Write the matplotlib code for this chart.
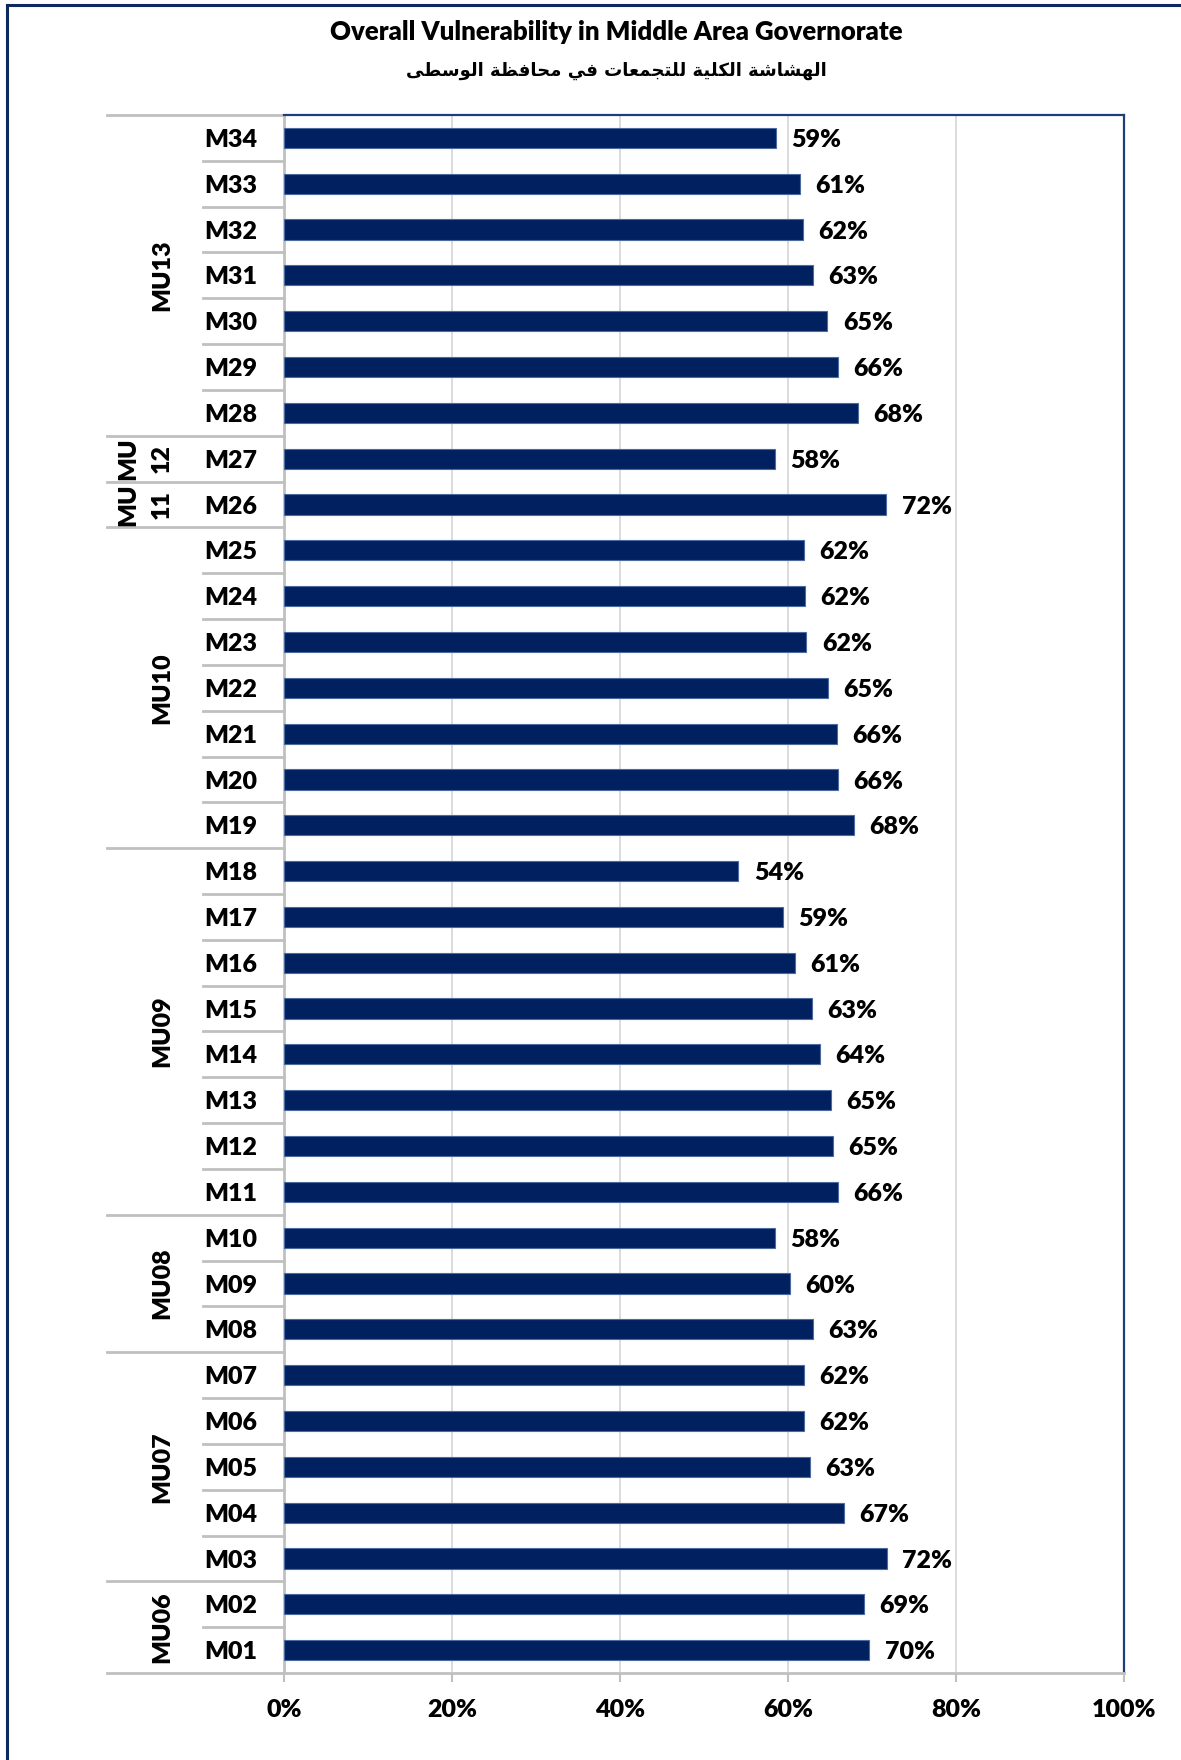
import matplotlib
matplotlib.use('Agg')
import matplotlib.pyplot as plt
from matplotlib.ticker import PercentFormatter
from matplotlib.lines import Line2D

# data, bottom to top
communities = ['M01', 'M02', 'M03', 'M04', 'M05', 'M06', 'M07', 'M08', 'M09', 'M10',
               'M11', 'M12', 'M13', 'M14', 'M15', 'M16', 'M17', 'M18', 'M19', 'M20',
               'M21', 'M22', 'M23', 'M24', 'M25', 'M26', 'M27', 'M28', 'M29', 'M30',
               'M31', 'M32', 'M33', 'M34']
vulnerability = [69.7, 69.1, 71.8, 66.7, 62.6, 61.9, 61.9, 63.0, 60.2, 58.4,
                 65.9, 65.4, 65.1, 63.8, 62.8, 60.8, 59.4, 54.1, 67.9, 65.9,
                 65.8, 64.8, 62.2, 62.0, 61.9, 71.7, 58.4, 68.3, 66.0, 64.7,
                 63.0, 61.8, 61.4, 58.6]
groups = ['MU06', 'MU07', 'MU08', 'MU09', 'MU10', 'MU11', 'MU12', 'MU13']
group_sizes = [2, 5, 3, 8, 7, 1, 1, 7]

title_en = 'Overall Vulnerability in Middle Area Governorate'
title_ar = 'الهشاشة الكلية للتجمعات في محافظة الوسطى'

# matplotlib does not join arabic letters, so pick presentation forms by hand
ar_forms = {
    'ا': ('\uFE8D', '\uFE8E', None, None),
    'ل': ('\uFEDD', '\uFEDE', '\uFEDF', '\uFEE0'),
    'ه': ('\uFEE9', '\uFEEA', '\uFEEB', '\uFEEC'),
    'ش': ('\uFEB5', '\uFEB6', '\uFEB7', '\uFEB8'),
    'ة': ('\uFE93', '\uFE94', None, None),
    'ك': ('\uFED9', '\uFEDA', '\uFEDB', '\uFEDC'),
    'ي': ('\uFEF1', '\uFEF2', '\uFEF3', '\uFEF4'),
    'ت': ('\uFE95', '\uFE96', '\uFE97', '\uFE98'),
    'ج': ('\uFE9D', '\uFE9E', '\uFE9F', '\uFEA0'),
    'م': ('\uFEE1', '\uFEE2', '\uFEE3', '\uFEE4'),
    'ع': ('\uFEC9', '\uFECA', '\uFECB', '\uFECC'),
    'ف': ('\uFED1', '\uFED2', '\uFED3', '\uFED4'),
    'ح': ('\uFEA1', '\uFEA2', '\uFEA3', '\uFEA4'),
    'ظ': ('\uFEC5', '\uFEC6', '\uFEC7', '\uFEC8'),
    'و': ('\uFEED', '\uFEEE', None, None),
    'س': ('\uFEB1', '\uFEB2', '\uFEB3', '\uFEB4'),
    'ط': ('\uFEC1', '\uFEC2', '\uFEC3', '\uFEC4'),
    'ى': ('\uFEEF', '\uFEF0', None, None),
}


def shape_ar(s):
    out = []
    for i, c in enumerate(s):
        if c not in ar_forms:
            out.append(c)
            continue
        iso, fin, ini, med = ar_forms[c]
        prev = s[i - 1] if i > 0 else ' '
        nxt = s[i + 1] if i + 1 < len(s) else ' '
        join_prev = prev in ar_forms and ar_forms[prev][2] is not None
        join_next = ini is not None and nxt in ar_forms
        if join_prev and join_next:
            out.append(med)
        elif join_prev:
            out.append(fin)
        elif join_next:
            out.append(ini)
        else:
            out.append(iso)
    return ''.join(out)[::-1]


plt.rcParams['font.family'] = ['Lato', 'DejaVu Sans']
plt.rcParams['font.weight'] = 'heavy'

navy = '#002060'
grey = '#c0c0c0'
fs = 18
wt = 'heavy'

fig = plt.figure(figsize=(11.81, 17.6), dpi=100)
ax = fig.add_axes([284 / 1181, 87 / 1760, 840 / 1181, 1558 / 1760])

vals = [v / 100 for v in vulnerability]
ypos = list(range(len(communities)))
ax.barh(ypos, vals, height=0.44, color=navy, edgecolor='#4a6aa0', linewidth=0.8, zorder=3)

for y, v in zip(ypos, vals):
    ax.annotate(f'{round(v * 100)}%', (v, y), xytext=(11, -1.5), textcoords='offset points',
                va='center', ha='left', fontsize=fs, fontweight=wt)

ax.set_xlim(0, 1)
ax.set_ylim(-0.5, len(communities) - 0.5)
ax.set_xticks([0, 0.2, 0.4, 0.6, 0.8, 1.0])
ax.xaxis.set_major_formatter(PercentFormatter(1.0, decimals=0))
ax.tick_params(axis='x', length=6.5, width=1.5, color=grey, pad=12, labelsize=fs)
for t in ax.get_xticklabels():
    t.set_fontweight(wt)
ax.set_yticks([])
ax.grid(axis='x', color='#d9d9d9', linewidth=1.3, zorder=0)
ax.set_axisbelow(True)
for s in ['left', 'bottom']:
    ax.spines[s].set_color(grey)
    ax.spines[s].set_linewidth(2)
for s in ['top', 'right']:
    ax.spines[s].set_color('#1f3d7a')
    ax.spines[s].set_linewidth(1.6)

# category labels
trans = ax.get_yaxis_transform()
for y, name in zip(ypos, communities):
    ax.annotate(name, (-0.063, y), xycoords=trans, xytext=(0, -1.5), textcoords='offset points',
                ha='center', va='center', fontsize=fs, fontweight=wt, annotation_clip=False)

# separators between categories, longer ones between groups
bounds = [-0.5]
for n in group_sizes:
    bounds.append(bounds[-1] + n)
for k in range(len(communities) + 1):
    yb = k - 0.5
    x0 = -0.211 if yb in bounds else -0.0964
    ax.add_line(Line2D([x0, 0], [yb, yb], transform=trans, color=grey,
                       linewidth=2, clip_on=False))

# group labels
for g, lo, hi in zip(groups, bounds[:-1], bounds[1:]):
    yc = (lo + hi) / 2
    if hi - lo > 1:
        ax.text(-0.145, yc, g, transform=trans, rotation=90, ha='center', va='center',
                fontsize=fs, fontweight=wt)
    else:
        ax.text(-0.186, yc, g[:2], transform=trans, rotation=90, ha='center', va='center',
                fontsize=fs, fontweight=wt)
        ax.text(-0.145, yc, g[2:], transform=trans, rotation=90, ha='center', va='center',
                fontsize=fs, fontweight=wt)

# titles
fig.text(616 / 1181, 1 - 32 / 1760, title_en, ha='center', va='center',
         fontsize=18.5, fontweight=wt)
fig.text(616 / 1181, 1 - 71 / 1760, shape_ar(title_ar), ha='center', va='center',
         fontsize=13, fontweight='bold', family=['DejaVu Sans'])

# outer frame (left and top edges visible)
fig.add_artist(Line2D([7 / 1181, 7 / 1181], [0, 1 - 5 / 1760], transform=fig.transFigure,
                      color='#0d2a5c', linewidth=2.2))
fig.add_artist(Line2D([7 / 1181, 1], [1 - 5 / 1760, 1 - 5 / 1760], transform=fig.transFigure,
                      color='#0d2a5c', linewidth=2.2))

fig.savefig('out.png', dpi=100)
